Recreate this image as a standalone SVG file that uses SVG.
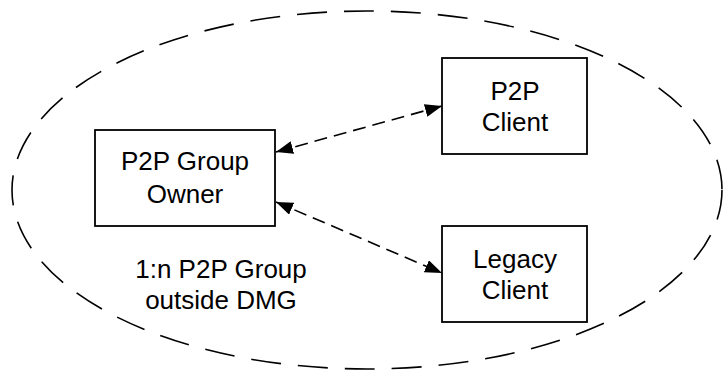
<svg xmlns="http://www.w3.org/2000/svg" width="723" height="375" viewBox="0 0 723 375">
<defs>
<style>
.box{fill:#fff;stroke:#000;stroke-width:1.8}
.t{font-family:"Liberation Sans",Arial,sans-serif;font-size:26px;fill:#000;text-anchor:middle}
.conn{fill:none;stroke:#000;stroke-width:1.6;stroke-dasharray:13 7}
.boundary{fill:none;stroke:#000;stroke-width:1.6;stroke-dasharray:30 17}
</style>
<marker id="arr" viewBox="0 0 17 13" markerWidth="17" markerHeight="13" refX="17" refY="6.5" orient="auto-start-reverse" markerUnits="userSpaceOnUse">
<path d="M0,0 L17,6.5 L0,13 z" fill="#000"/>
</marker>
</defs>
<rect width="723" height="375" fill="#fff"/>
<g id="group-boundary">
<ellipse class="boundary" cx="367" cy="190" rx="355" ry="179"/>
<text class="t" x="221" y="278">1:n P2P Group</text>
<text class="t" x="221" y="309">outside DMG</text>
</g>
<g id="connectors">
<line class="conn" x1="276" y1="152" x2="442" y2="106" marker-start="url(#arr)" marker-end="url(#arr)"/>
<line class="conn" x1="276" y1="202" x2="442" y2="273" marker-start="url(#arr)" marker-end="url(#arr)"/>
</g>
<g id="group-owner">
<rect class="box" x="95" y="130" width="180" height="96"/>
<text class="t" x="185" y="170">P2P Group</text>
<text class="t" x="185" y="203">Owner</text>
</g>
<g id="p2p-client">
<rect class="box" x="442" y="58" width="145" height="96"/>
<text class="t" x="515" y="100">P2P</text>
<text class="t" x="515" y="131">Client</text>
</g>
<g id="legacy-client">
<rect class="box" x="442" y="226" width="145" height="96"/>
<text class="t" x="515" y="268">Legacy</text>
<text class="t" x="515" y="299">Client</text>
</g>
</svg>
